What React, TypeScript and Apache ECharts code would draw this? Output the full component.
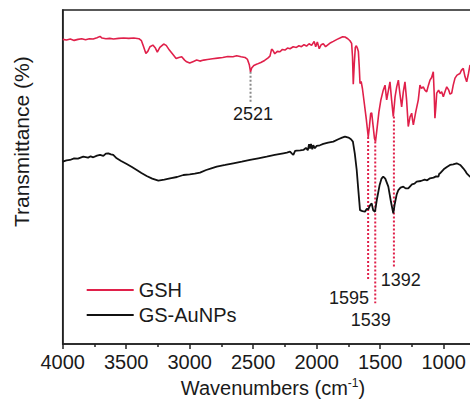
import React, { useEffect, useRef } from "react";
import * as echarts from "echarts";

const seriesNames = ["GSH", "GS-AuNPs"];

const gshSpectrum: [number, number][] = [
  [4000, 91.2], [3970, 91.0], [3940, 91.3], [3910, 90.9], [3880, 91.2], [3850, 91.4], [3820, 91.1],
  [3790, 91.4], [3760, 91.3], [3730, 91.7], [3706, 92.1], [3690, 91.6], [3660, 91.4], [3630, 91.5],
  [3600, 91.3], [3560, 91.5], [3520, 91.6], [3480, 91.5], [3440, 91.6], [3400, 91.4], [3380, 90.8],
  [3365, 89.2], [3345, 87.0], [3330, 87.6], [3313, 89.0], [3290, 89.5], [3270, 88.6], [3255, 87.4],
  [3235, 88.8], [3205, 89.8], [3185, 89.4], [3160, 88.0], [3130, 86.6], [3107, 85.5], [3085, 85.8],
  [3063, 86.0], [3040, 85.0], [3024, 84.5], [3000, 84.1], [2970, 84.6], [2945, 85.0], [2920, 84.7],
  [2890, 85.0], [2860, 85.2], [2820, 85.4], [2780, 85.6], [2740, 85.8], [2700, 86.1], [2660, 86.0],
  [2630, 86.3], [2595, 86.0], [2565, 85.8], [2545, 85.2], [2530, 83.5], [2521, 81.5], [2512, 82.6],
  [2495, 83.4], [2470, 83.8], [2440, 84.3], [2410, 84.9], [2385, 85.6], [2368, 86.2], [2355, 88.3],
  [2345, 87.9], [2330, 86.9], [2310, 87.6], [2289, 87.5], [2270, 88.2], [2250, 88.0], [2230, 88.6],
  [2210, 88.4], [2185, 89.0], [2160, 88.8], [2140, 89.3], [2120, 89.0], [2100, 89.6], [2080, 89.2],
  [2060, 89.9], [2040, 89.4], [2020, 90.6], [2008, 89.0], [1995, 90.4], [1980, 88.4], [1965, 89.6],
  [1948, 89.9], [1930, 89.0], [1910, 89.6], [1890, 90.2], [1869, 90.6], [1840, 91.2], [1817, 91.6],
  [1795, 92.0], [1777, 91.9], [1755, 91.4], [1738, 90.8], [1725, 90.0], [1718, 86.0], [1712, 77.8],
  [1704, 84.0], [1696, 88.8], [1688, 89.3], [1680, 88.6], [1672, 87.6], [1665, 83.0], [1659, 78.0],
  [1650, 78.6], [1640, 76.5], [1625, 72.0], [1610, 67.5], [1600, 64.0], [1594, 62.0], [1585, 65.0],
  [1575, 69.0], [1567, 69.2], [1555, 65.0], [1545, 61.5], [1537, 60.6], [1525, 64.5], [1510, 69.5],
  [1495, 73.0], [1476, 76.0], [1462, 77.5], [1449, 73.1], [1435, 76.0], [1423, 78.5], [1410, 73.0],
  [1397, 68.1], [1390, 71.0], [1383, 74.0], [1370, 77.0], [1357, 79.0], [1345, 75.0], [1331, 71.0],
  [1318, 75.5], [1305, 78.5], [1292, 73.0], [1279, 65.1], [1265, 68.0], [1252, 69.1], [1245, 67.0],
  [1239, 65.6], [1220, 69.5], [1200, 73.1], [1187, 77.5], [1175, 76.5], [1161, 77.0], [1148, 76.0],
  [1134, 75.5], [1120, 77.5], [1108, 79.0], [1095, 79.8], [1082, 81.5], [1075, 75.0], [1069, 67.6],
  [1062, 71.0], [1055, 75.1], [1040, 76.0], [1028, 75.0], [1016, 75.5], [1003, 74.0], [990, 75.5],
  [976, 77.0], [960, 76.0], [950, 74.8], [937, 75.1], [925, 77.5], [911, 79.6], [895, 80.5],
  [872, 81.0], [860, 82.0], [846, 82.5], [832, 80.0], [819, 78.5], [805, 81.0], [793, 83.5],
  [770, 82.5], [750, 83.0],
];

const auSpectrum: [number, number][] = [
  [4000, 54.6], [3970, 55.0], [3943, 55.1], [3910, 55.6], [3880, 55.5], [3838, 56.1], [3800, 55.8],
  [3780, 56.2], [3759, 55.9], [3730, 56.4], [3706, 56.6], [3680, 56.3], [3660, 57.0], [3641, 57.1],
  [3620, 56.8], [3602, 56.6], [3575, 55.6], [3540, 54.8], [3496, 53.9], [3455, 53.0], [3417, 52.1],
  [3380, 51.2], [3339, 50.3], [3295, 49.5], [3247, 48.9], [3200, 49.2], [3155, 49.6], [3100, 50.0],
  [3050, 50.6], [3000, 50.8], [2960, 51.0], [2919, 51.3], [2870, 52.1], [2830, 52.6], [2787, 53.1],
  [2720, 53.6], [2657, 54.1], [2590, 54.6], [2525, 55.1], [2460, 55.6], [2394, 56.1], [2330, 56.6],
  [2263, 57.1], [2235, 57.3], [2210, 57.6], [2195, 57.0], [2184, 56.6], [2170, 57.8], [2157, 57.9],
  [2130, 58.0], [2105, 58.1], [2085, 58.7], [2070, 58.0], [2060, 59.8], [2053, 58.5], [2045, 59.9],
  [2035, 58.3], [2027, 59.5], [2015, 58.6], [2000, 59.3], [1975, 59.5], [1948, 59.9], [1910, 60.3],
  [1869, 60.6], [1830, 61.3], [1800, 61.8], [1777, 62.1], [1750, 61.8], [1730, 61.3], [1715, 60.6],
  [1700, 57.0], [1685, 52.1], [1672, 46.0], [1659, 40.1], [1640, 39.8], [1620, 39.6], [1605, 40.5],
  [1594, 40.3], [1580, 41.5], [1567, 42.1], [1555, 40.0], [1541, 39.6], [1525, 43.5], [1505, 47.5],
  [1490, 49.5], [1476, 50.1], [1460, 49.5], [1436, 47.1], [1415, 42.5], [1397, 39.1], [1385, 42.0],
  [1370, 44.8], [1357, 46.1], [1340, 46.8], [1318, 47.1], [1300, 46.6], [1279, 46.6], [1250, 47.8],
  [1230, 48.0], [1213, 48.6], [1180, 48.8], [1150, 49.2], [1130, 49.0], [1108, 49.6], [1080, 49.8],
  [1060, 50.2], [1042, 50.1], [1035, 51.0], [1029, 51.1], [1000, 52.3], [975, 53.0], [950, 53.6],
  [925, 53.8], [898, 54.1], [870, 53.6], [846, 52.6], [830, 51.8], [819, 51.1], [793, 50.1],
  [770, 49.8], [750, 49.5],
];

const peakWavenumbers = [2521, 1595, 1539, 1392];
const peakLineTop = [81.5, 62.0, 60.6, 68.1];
const peakLineBottom = [72.0, 19.4, 12.2, 23.1];
const peakLineColors = ["#8a8a8a", "#e0204a", "#e0204a", "#e0204a"];
const peakLabelPos: [number, number][] = [[2502, 68.9], [1746, 13.7], [1574, 7.3], [1338, 19.1]];

const X_MIN = 500;
const X_MAX = 4000;
const X_INTERVAL = 500;

const RED = "#e0204a";
const BLACK = "#111111";
const TEXT = "#1a1a1a";
const FONT = "Liberation Sans, Arial, Helvetica, sans-serif";

export default function App() {
  const ref = useRef<HTMLDivElement>(null);
  useEffect(() => {
    if (!ref.current) return;
    const chart = echarts.init(ref.current, undefined, { renderer: "svg" });
    const peakLineSeries = peakWavenumbers.map((wn, i) => ({
      type: "line",
      name: "peak" + wn,
      data: [[wn, peakLineTop[i]], [wn, peakLineBottom[i]]],
      symbol: "none",
      silent: true,
      lineStyle: { type: [2, 2], width: 2, color: peakLineColors[i] },
      z: 1,
    }));
    chart.setOption({
      animation: false,
      backgroundColor: "#ffffff",
      grid: {
        left: 62.7,
        top: 10,
        width: ((X_MAX - X_MIN) / X_INTERVAL) * 63.5,
        height: 334,
        show: true,
        borderColor: "#222",
        borderWidth: 1.5,
        outerBoundsMode: "none",
        containLabel: false,
      },
      legend: {
        data: seriesNames,
        orient: "vertical",
        left: 86.7,
        top: 280,
        padding: 0,
        icon: "rect",
        itemWidth: 47,
        itemHeight: 2,
        itemGap: 5,
        textStyle: { fontSize: 20, color: TEXT, fontFamily: FONT, lineHeight: 20 },
      },
      xAxis: {
        type: "value",
        inverse: true,
        min: X_MIN,
        max: X_MAX,
        interval: X_INTERVAL,
        name: "{a|Wavenumbers (cm}{s|-1}{a|)}",
        nameLocation: "middle",
        nameGap: 31,
        nameTextStyle: {
          padding: [0, 24, 0, 0],
          rich: {
            a: { fontSize: 20, fontFamily: FONT, color: TEXT, lineHeight: 22 },
            s: { fontSize: 12, fontFamily: FONT, color: TEXT, lineHeight: 12, verticalAlign: "top" },
          },
        },
        axisLine: { show: true, lineStyle: { color: "#222", width: 1.5 } },
        axisTick: { show: true, inside: false, length: 5, lineStyle: { color: "#222", width: 1.5 } },
        minorTick: { show: true, splitNumber: 2, length: 3, lineStyle: { color: "#222", width: 1.5 } },
        axisLabel: {
          fontSize: 20,
          color: TEXT,
          fontFamily: FONT,
          margin: 8,
          showMinLabel: false,
          formatter: (v: number) => String(v),
        },
        splitLine: { show: false },
      },
      yAxis: {
        type: "value",
        min: 0,
        max: 100,
        axisLine: { show: true, lineStyle: { color: "#222", width: 1.5 } },
        axisTick: { show: false },
        axisLabel: { show: false },
        splitLine: { show: false },
      },
      graphic: [
        {
          type: "text",
          x: 21.7,
          y: 141.7,
          rotation: Math.PI / 2,
          style: {
            text: "Transmittance (%)",
            fontSize: 21,
            fontFamily: FONT,
            fill: TEXT,
            align: "center",
            verticalAlign: "middle",
          },
        },
      ],
      series: [
        {
          type: "line",
          name: seriesNames[0],
          data: gshSpectrum,
          symbol: "none",
          color: RED,
          lineStyle: { color: RED, width: 1.6 },
          z: 3,
        },
        {
          type: "line",
          name: seriesNames[1],
          data: auSpectrum,
          symbol: "none",
          color: BLACK,
          lineStyle: { color: BLACK, width: 1.8 },
          z: 3,
        },
        ...peakLineSeries,
        {
          type: "scatter",
          name: "peakLabels",
          symbolSize: 0,
          silent: true,
          itemStyle: { opacity: 1 },
          data: peakLabelPos.map((p, i) => ({ value: p, name: String(peakWavenumbers[i]) })),
          label: {
            show: true,
            position: "inside",
            formatter: (p: any) => p.name,
            fontSize: 18,
            color: TEXT,
            opacity: 1,
            fontFamily: FONT,
          },
          z: 4,
        },
      ],
    });
    return () => chart.dispose();
  }, []);
  return (
    <div
      ref={ref}
      style={{ position: "fixed", left: 0, top: 0, width: 470, height: 404, background: "#fff" }}
    />
  );
}
